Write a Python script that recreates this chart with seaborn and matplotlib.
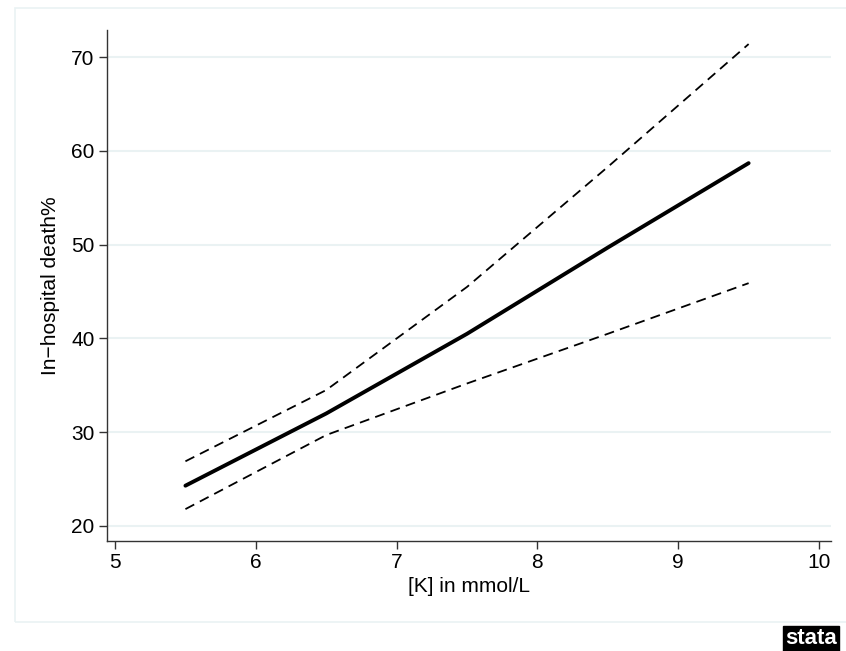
import numpy as np
import pandas as pd
import matplotlib
matplotlib.use("Agg")
import matplotlib.pyplot as plt
import matplotlib.patches as mpatches
import seaborn as sns

# ---data---
k_mmol = [5.5, 6.5, 7.5, 8.5, 9.5]
death_pct = [24.3, 32.0, 40.5, 49.7, 58.7]
upper_ci = [26.9, 34.5, 45.5, 58.3, 71.4]
lower_ci = [21.8, 29.7, 35.2, 40.5, 45.9]
x_ticks = [5, 6, 7, 8, 9, 10]
y_ticks = [20, 30, 40, 50, 60, 70]

df = pd.DataFrame({'k': k_mmol, 'fit': death_pct, 'hi': upper_ci, 'lo': lower_ci})

#---style---
sns.set_style('white')
plt.rcParams['font.family'] = ['Liberation Sans', 'DejaVu Sans']
plt.rcParams['text.color'] = 'black'
plt.rcParams['axes.labelcolor'] = 'black'
plt.rcParams['xtick.color'] = 'black'
plt.rcParams['ytick.color'] = 'black'
grid_col = '#EAF2F3'

fig = plt.figure(figsize=(8.46, 6.51), dpi=100)
ax = fig.add_axes([107 / 846, 1 - 541 / 651, (831 - 107) / 846, (541 - 30) / 651])

# - outer frame
fig.patches.append(mpatches.Rectangle((15 / 846, 1 - 622 / 651), 1, (622 - 8) / 651,
                                      transform=fig.transFigure, fill=False,
                                      edgecolor=grid_col, lw=1.2))

sns.lineplot(data=df, x='k', y='hi', ax=ax, color='black', lw=1.3, linestyle=(0, (5.5, 3.5)))
sns.lineplot(data=df, x='k', y='lo', ax=ax, color='black', lw=1.3, linestyle=(0, (5.5, 3.5)))
sns.lineplot(data=df, x='k', y='fit', ax=ax, color='black', lw=2.8)

ax.set_xlim(4.943, 10.085)
ax.set_ylim(18.4, 72.9)
ax.set_xticks(x_ticks)
ax.set_yticks(y_ticks)
for y in y_ticks:
    ax.axhline(y, color=grid_col, lw=1.5, zorder=0)
ax.tick_params(axis='both', direction='out', length=6, width=1, color='#333333',
               labelsize=15, pad=3, left=True, bottom=True)
for s in ['top', 'right']:
    ax.spines[s].set_visible(False)
for s in ['left', 'bottom']:
    ax.spines[s].set_color('#333333')
    ax.spines[s].set_linewidth(1)
ax.set_xlabel('[K] in mmol/L', fontsize=15, labelpad=3)
ax.set_ylabel('In\u2212hospital death%', fontsize=15, labelpad=8)

# - stata badge
fig.text(811 / 846, 1 - 639 / 651, 'stata', ha='center', va='center', color='white',
         fontsize=16, fontweight='bold',
         bbox=dict(boxstyle='square,pad=0.1', facecolor='black', edgecolor='black'))

fig.savefig('out.png', dpi=100)
